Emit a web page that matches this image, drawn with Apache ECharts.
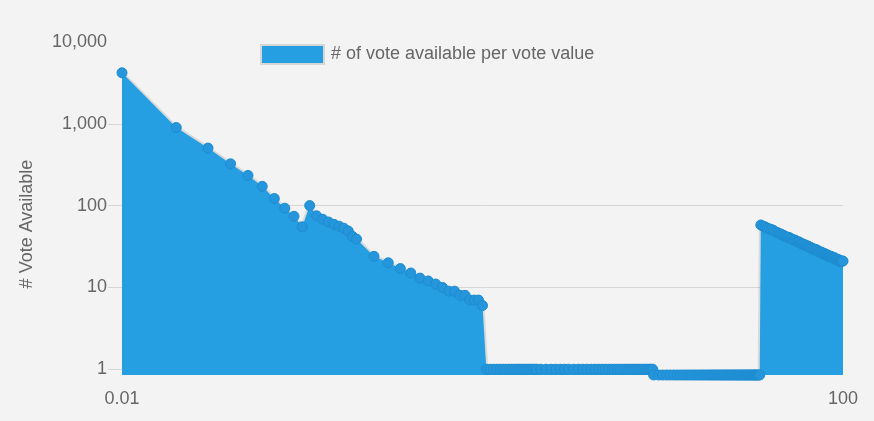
<!DOCTYPE html>
<html>
<head>
<meta charset="utf-8">
<script src="https://cdn.jsdelivr.net/npm/echarts@6/dist/echarts.min.js"></script>
<style>
html,body{margin:0;padding:0;background:#f3f3f3;}
#c{width:874px;height:421px;}
</style>
</head>
<body>
<div id="c"></div>
<script>
// Vote value (x) and number of votes available (y)
const steepValues = [0.01, 0.02, 0.03, 0.04, 0.05, 0.06, 0.07, 0.08, 0.09, 0.1, 0.11, 0.12, 0.13, 0.14, 0.15, 0.16, 0.17, 0.18, 0.19, 0.2, 0.25, 0.3, 0.35, 0.4, 0.45, 0.5, 0.55, 0.6, 0.65, 0.7, 0.75, 0.8, 0.85, 0.9, 0.95, 1.0];
const steepCounts = [4200, 900, 505, 324, 234, 172, 122, 93, 74, 55, 100, 75, 68, 63, 59, 56, 53, 49, 42, 39, 24, 20, 17, 15, 13, 12, 11, 10, 9, 9, 8, 8, 7, 7, 7, 6];

const onePlateauValues = [1.05, 1.1, 1.15, 1.2, 1.25, 1.3, 1.35, 1.4, 1.45, 1.5, 1.55, 1.6, 1.65, 1.7, 1.75, 1.8, 1.85, 1.9, 1.95, 2.0, 2.1, 2.25, 2.4, 2.55, 2.7, 2.85, 3.0, 3.2, 3.4, 3.6, 3.8, 4.0, 4.2, 4.4, 4.6, 4.8, 5.0, 5.2, 5.4, 5.6, 5.8, 6.0, 6.2, 6.4, 6.6, 6.8, 7.0, 7.2, 7.4, 7.6, 7.8, 8.0, 8.2, 8.4, 8.6, 8.8];
const onePlateauCount = 1;

const floorPlateauValues = [8.9, 9.5, 10, 10.5, 11, 11.5, 12, 12.5, 13, 13.5, 14, 14.5, 15, 15.5, 16, 16.5, 17, 17.5, 18, 18.5, 19, 19.5, 20, 20.5, 21, 21.5, 22, 22.5, 23, 23.5, 24, 24.5, 25, 25.5, 26, 26.5, 27, 27.5, 28, 28.5, 29, 29.5, 30, 30.5, 31, 31.5, 32, 32.5, 33, 33.5, 34, 34.5];
const floorPlateauCount = 0.85;

const tailValues = [35, 36, 37, 38, 39, 40, 41, 42, 43, 44, 45, 46, 47, 48, 49, 50, 51, 52, 53, 54, 55, 56, 57, 58, 59, 60, 61, 62, 63, 64, 65, 66, 67, 68, 69, 70, 71, 72, 73, 74, 75, 76, 77, 78, 79, 80, 81, 82, 83, 84, 85, 86, 87, 88, 89, 90, 91, 92, 93, 94, 95, 96, 97, 98, 99, 100];
const tailCounts = [58, 56, 55, 53, 52, 51, 50, 48, 47, 46, 45, 44, 43, 42, 41, 41, 40, 39, 38, 38, 37, 36, 36, 35, 34, 34, 33, 33, 32, 32, 31, 31, 30, 30, 29, 29, 29, 28, 28, 27, 27, 27, 26, 26, 26, 25, 25, 25, 24, 24, 24, 24, 23, 23, 23, 23, 22, 22, 22, 22, 21, 21, 21, 21, 21, 21];

const yTickLabels = [1, 10, 100, 1000, 10000];
const yTickMarks = [1, 10, 100, 1000];
const xTickLabels = [0.01, 100];

const seriesName = '# of vote available per vote value';
const yAxisTitle = '# Vote Available';

const data = []
  .concat(steepValues.map((v, i) => [v, steepCounts[i]]))
  .concat(onePlateauValues.map(v => [v, onePlateauCount]))
  .concat(floorPlateauValues.map(v => [v, floorPlateauCount]))
  .concat(tailValues.map((v, i) => [v, tailCounts[i]]));

const chart = echarts.init(document.getElementById('c'), null, {renderer: 'canvas'});
chart.setOption({
  backgroundColor: '#f3f3f3',
  animation: false,
  textStyle: {fontFamily: '"Liberation Sans", Arial, sans-serif'},
  grid: {left: 122, right: 31, top: 42, bottom: 46},
  legend: {
    left: 255, top: 39,
    itemWidth: 63, itemHeight: 19,
    icon: 'rect',
    data: [{name: seriesName, itemStyle: {color: '#269fe2', borderColor: '#d6d6d6', borderWidth: 2}}],
    textStyle: {fontSize: 18, color: '#666', padding: [0, 0, 0, 2]}
  },
  xAxis: {
    type: 'log', min: 0.01, max: 100,
    splitLine: {show: false},
    axisLine: {show: false},
    axisTick: {show: false},
    axisLabel: {
      customValues: xTickLabels,
      fontSize: 18, color: '#666', margin: 15,
      formatter: v => String(Number(v.toPrecision(6)))
    }
  },
  yAxis: {
    type: 'log', min: 0.85, max: 10000,
    name: yAxisTitle,
    nameLocation: 'middle', nameGap: 86,
    nameTextStyle: {fontSize: 18, color: '#666', padding: [0, 31, 0, 0]},
    axisLine: {show: false},
    axisTick: {show: true, length: 14, lineStyle: {color: '#d6d6d6', width: 1}, customValues: yTickMarks},
    axisLabel: {
      customValues: yTickLabels,
      fontSize: 18, color: '#666', margin: 15,
      formatter: v => Math.round(v).toLocaleString('en-US')
    },
    splitLine: {show: true, showMinLine: false, showMaxLine: false, lineStyle: {color: '#d6d6d6'}}
  },
  series: [
    {
      name: 'outline', type: 'line', data: data, z: 1,
      symbol: 'none', silent: true,
      lineStyle: {color: 'rgba(0,0,0,0.1)', width: 4}
    },
    {
      name: seriesName, type: 'line', data: data, z: 2,
      symbol: 'circle', symbolSize: 10,
      itemStyle: {color: '#2596db', borderColor: '#1e8cd1', borderWidth: 1},
      lineStyle: {width: 0, opacity: 0},
      areaStyle: {color: '#269fe2', opacity: 1, origin: 'start'}
    }
  ]
});
</script>
</body>
</html>
